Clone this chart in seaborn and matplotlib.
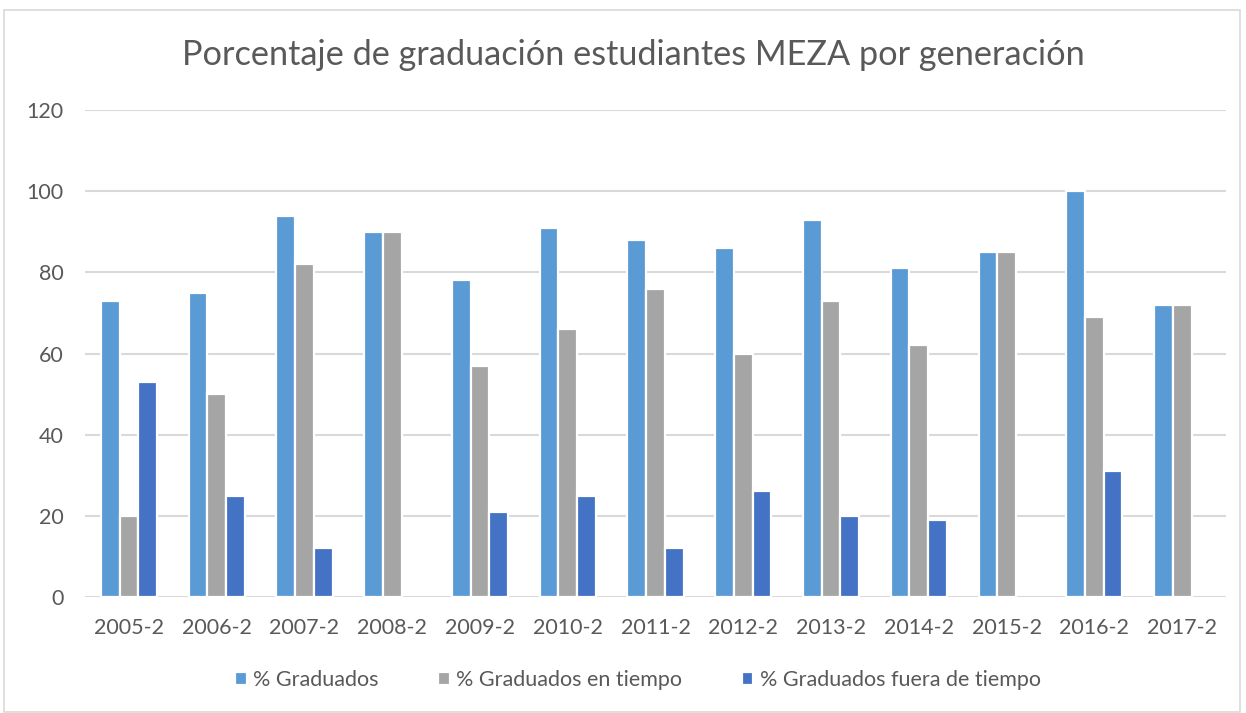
import numpy as np
import pandas as pd
import matplotlib
matplotlib.use("Agg")
import matplotlib.pyplot as plt
import matplotlib.patches as mpatches
import seaborn as sns

generaciones = ["2005-2", "2006-2", "2007-2", "2008-2", "2009-2", "2010-2", "2011-2",
                "2012-2", "2013-2", "2014-2", "2015-2", "2016-2", "2017-2"]
graduados = [73, 75, 94, 90, 78, 91, 88, 86, 93, 81, 85, 100, 72]
graduados_tiempo = [20, 50, 82, 90, 57, 66, 76, 60, 73, 62, 85, 69, 72]
graduados_fuera = [53, 25, 12, np.nan, 21, 25, 12, 26, 20, 19, np.nan, 31, np.nan]
series = ["% Graduados", "% Graduados en tiempo", "% Graduados fuera de tiempo"]
colores = ["#5B9BD5", "#A5A5A5", "#4472C4"]

df = pd.DataFrame({
    "generacion": generaciones * 3,
    "serie": [series[0]] * 13 + [series[1]] * 13 + [series[2]] * 13,
    "valor": graduados + graduados_tiempo + graduados_fuera,
}).dropna()

sns.set_theme(style="white")
plt.rcParams["font.family"] = ["Lato", "DejaVu Sans"]
texto = "#595959"

fig = plt.figure(figsize=(12.46, 7.13), dpi=100)
ax = fig.add_axes([0.0682, 0.1627, 0.984 - 0.0682, 0.8457 - 0.1627])

sns.barplot(data=df, x="generacion", y="valor", hue="serie", order=generaciones,
            hue_order=series, palette=colores, width=0.64, edgecolor="white",
            linewidth=1.6, saturation=1, ax=ax, legend=True, zorder=3)

ax.set_ylim(0, 120)
ax.set_yticks(range(0, 121, 20))
ax.yaxis.grid(True, color="#D9D9D9", linewidth=1.5, zorder=0)
ax.set_axisbelow(True)
for s in ax.spines.values():
    s.set_visible(False)
ax.set_xlabel("")
ax.set_ylabel("")
ax.tick_params(axis="both", length=0, labelsize=15.5, labelcolor=texto)
ax.tick_params(axis="y", pad=15.5)
ax.tick_params(axis="x", pad=15)

h, l = ax.get_legend_handles_labels()
ax.get_legend().remove()
fig.legend(h, l, loc="center", bbox_to_anchor=(0.512, 1 - 680 / 713), ncol=3,
           frameon=False, fontsize=15.5, labelcolor=texto, handlelength=0.55,
           handleheight=0.55, handletextpad=0.3, columnspacing=2.75)

fig.text(0.508, 1 - 55 / 713, "Porcentaje de graduación estudiantes MEZA por generación",
         ha="center", va="center", fontsize=24.7, color=texto)

fig.patches.append(mpatches.Rectangle((4 / 1246, 0.002), 1236 / 1246, 1 - 10 / 713 - 0.002,
                                      transform=fig.transFigure, fill=False,
                                      edgecolor="#D9D9D9", linewidth=1.2))

fig.savefig("out.png", dpi=100, facecolor="white")
